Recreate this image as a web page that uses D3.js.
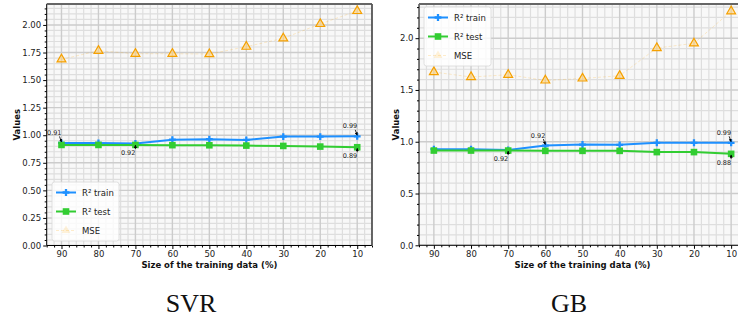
<!DOCTYPE html>
<html><head><meta charset="utf-8">
<script src="https://cdn.jsdelivr.net/npm/d3@7"></script>
<style>body{margin:0;background:#fff}svg{display:block}</style>
</head><body><svg id="c" width="738" height="320"></svg>
<script>
// ---- data ----
const sizes = [90, 80, 70, 60, 50, 40, 30, 20, 10];
const svrTrain = [0.93, 0.93, 0.925, 0.96, 0.964, 0.957, 0.988, 0.988, 0.99];
const svrTest  = [0.912, 0.912, 0.912, 0.91, 0.909, 0.906, 0.903, 0.897, 0.891];
const svrMse   = [1.688, 1.766, 1.739, 1.739, 1.736, 1.803, 1.879, 2.009, 2.127];
const gbTrain  = [0.928, 0.928, 0.92, 0.963, 0.973, 0.97, 0.99, 0.99, 0.99];
const gbTest   = [0.915, 0.915, 0.915, 0.912, 0.912, 0.912, 0.90, 0.90, 0.883];
const gbMse    = [1.673, 1.625, 1.647, 1.592, 1.611, 1.637, 1.905, 1.95, 2.26];
const svrNotes = [{x:90, v:0.93, t:"0.91", pos:"above"}, {x:70, v:0.92, t:"0.92", pos:"below"},
                  {x:10, v:0.99, t:"0.99", pos:"above"}, {x:10, v:0.891, t:"0.89", pos:"below"}];
const gbNotes  = [{x:60, v:0.963, t:"0.92", pos:"above"}, {x:70, v:0.92, t:"0.92", pos:"below"},
                  {x:10, v:0.99, t:"0.99", pos:"above"}, {x:10, v:0.883, t:"0.88", pos:"below"}];
const xTicks = [90, 80, 70, 60, 50, 40, 30, 20, 10];
const svrYTicks = [0, 0.25, 0.5, 0.75, 1.0, 1.25, 1.5, 1.75, 2.0];
const gbYTicks = [0, 0.5, 1.0, 1.5, 2.0];
const seriesNames = ["R² train", "R² test", "MSE"];
const captions = ["SVR", "GB"];

// ---- layout ----
const svg = d3.select("#c");
const font = "DejaVu Sans";
const panels = [
  {cap:captions[0], train:svrTrain, test:svrTest, mse:svrMse, notes:svrNotes, yTicks:svrYTicks, yMinorStep:0.05, fmt:".2f",
   left:46.7, right:372, top:4, bottom:245.5, yMax:2.19, ylabX:16.5, capX:191, legend:{x:52, y:182, align:"bottom"}},
  {cap:captions[1], train:gbTrain, test:gbTest, mse:gbMse, notes:gbNotes, yTicks:gbYTicks, yMinorStep:0.1, fmt:".1f",
   left:419, right:746, top:4, bottom:245.3, yMax:2.33, ylabX:395.5, capX:569, legend:{x:424, y:7}}
];

const defs = svg.append("defs");
defs.append("marker").attr("id","ah").attr("viewBox","0 0 6 6").attr("refX",5.5).attr("refY",3)
  .attr("markerWidth",4).attr("markerHeight",4).attr("orient","auto")
  .append("path").attr("d","M0,0L6,3L0,6Z").attr("fill","#000");

panels.forEach((p, pi) => {
  const x = d3.scaleLinear().domain([94, 6]).range([p.left, p.right]);
  const y = d3.scaleLinear().domain([0, p.yMax]).range([p.bottom, p.top]);
  const clipId = "clip" + pi;
  defs.append("clipPath").attr("id", clipId).append("rect")
    .attr("x", p.left).attr("y", p.top).attr("width", p.right - p.left).attr("height", p.bottom - p.top);
  const g = svg.append("g");
  const plot = g.append("g").attr("clip-path", `url(#${clipId})`);
  plot.append("rect").attr("x", p.left).attr("y", p.top).attr("width", p.right - p.left)
    .attr("height", p.bottom - p.top).attr("fill", "#f8f8f8");

  // grid
  const xMinor = d3.range(94, 5, -2).filter(v => v % 10 !== 0);
  const yMinor = d3.range(0, p.yMax + 1e-9, p.yMinorStep).map(v => +v.toFixed(3)).filter(v => !p.yTicks.some(t => Math.abs(t - v) < 1e-6));
  plot.selectAll(".vx").data(xMinor).join("line").attr("x1", d => x(d)).attr("x2", d => x(d))
    .attr("y1", p.top).attr("y2", p.bottom).attr("stroke", "#dedede").attr("stroke-width", 1.2);
  plot.selectAll(".hy").data(yMinor).join("line").attr("y1", d => y(d)).attr("y2", d => y(d))
    .attr("x1", p.left).attr("x2", p.right).attr("stroke", "#dedede").attr("stroke-width", 1.2);
  plot.selectAll(".vX").data(xTicks).join("line").attr("x1", d => x(d)).attr("x2", d => x(d))
    .attr("y1", p.top).attr("y2", p.bottom).attr("stroke", "#cccccc").attr("stroke-width", 1.4);
  plot.selectAll(".hY").data(p.yTicks).join("line").attr("y1", d => y(d)).attr("y2", d => y(d))
    .attr("x1", p.left).attr("x2", p.right).attr("stroke", "#cccccc").attr("stroke-width", 1.4);

  // MSE
  const line = arr => d3.line().x((d, i) => x(sizes[i])).y(d => y(d))(arr);
  plot.append("path").attr("d", line(p.mse)).attr("fill", "none").attr("stroke", "#ffa500")
    .attr("stroke-opacity", 0.2).attr("stroke-dasharray", "3,2").attr("stroke-width", 1);
  const tri = d3.symbol().type(d3.symbolTriangle).size(34);
  plot.selectAll(".tri").data(p.mse).join("path").attr("d", tri)
    .attr("transform", (d, i) => `translate(${x(sizes[i])},${y(d)})`)
    .attr("fill", "#ffd27a").attr("fill-opacity", 0.6).attr("stroke", "#f5a000").attr("stroke-width", 1.2);

  // train
  plot.append("path").attr("d", line(p.train)).attr("fill", "none").attr("stroke", "#1e90ff").attr("stroke-width", 2);
  const plus = d3.symbol().type(d3.symbolCross).size(26);
  plot.selectAll(".pl").data(p.train).join("path").attr("d", plus)
    .attr("transform", (d, i) => `translate(${x(sizes[i])},${y(d)})`).attr("fill", "#1e90ff");
  // test
  plot.append("path").attr("d", line(p.test)).attr("fill", "none").attr("stroke", "#32cd32").attr("stroke-width", 2);
  plot.selectAll(".sq").data(p.test).join("rect")
    .attr("x", (d, i) => x(sizes[i]) - 3.3).attr("y", d => y(d) - 3.3).attr("width", 6.6).attr("height", 6.6)
    .attr("fill", "#32cd32");

  // annotations
  p.notes.forEach(n => {
    const px = x(n.x), py = y(n.v);
    if (n.pos === "above") {
      g.append("text").attr("x", px).attr("y", py - 8).attr("text-anchor", "end")
        .attr("font-family", font).attr("font-size", 6.5).attr("fill", "#222").text(n.t);
      g.append("line").attr("x1", px - 2).attr("y1", py - 6.5).attr("x2", px).attr("y2", py - 1)
        .attr("stroke", "#000").attr("stroke-width", 0.8).attr("marker-end", "url(#ah)");
    } else {
      g.append("text").attr("x", px).attr("y", py + 11).attr("text-anchor", "end")
        .attr("font-family", font).attr("font-size", 6.5).attr("fill", "#222").text(n.t);
      g.append("line").attr("x1", px).attr("y1", py + 5).attr("x2", px).attr("y2", py + 1)
        .attr("stroke", "#000").attr("stroke-width", 0.8).attr("marker-end", "url(#ah)");
    }
  });

  // axes
  const yAxis = d3.axisLeft(y).tickValues(p.yTicks).tickFormat(d3.format(p.fmt)).tickSize(3.5).tickPadding(2);
  const ya = g.append("g").attr("transform", `translate(${p.left},0)`).call(yAxis);
  const yMinorAx = d3.axisLeft(y).tickValues(yMinor).tickFormat("").tickSize(2);
  g.append("g").attr("transform", `translate(${p.left},0)`).call(yMinorAx).call(s => s.select(".domain").remove());
  const xAxis = d3.axisBottom(x).tickValues(xTicks).tickFormat(d3.format("d")).tickSize(3.5).tickPadding(2);
  const xa = g.append("g").attr("transform", `translate(0,${p.bottom})`).call(xAxis);
  const xMinorAx = d3.axisBottom(x).tickValues(xMinor).tickFormat("").tickSize(2);
  g.append("g").attr("transform", `translate(0,${p.bottom})`).call(xMinorAx).call(s => s.select(".domain").remove());
  [ya, xa].forEach(a => {
    a.selectAll("text").attr("font-family", font).attr("font-size", 8.5).attr("fill", "#222");
    a.select(".domain").attr("stroke", "#000").attr("stroke-width", 1);
  });
  ya.select(".domain").remove(); xa.select(".domain").remove();
  // spines
  g.append("line").attr("x1", p.left).attr("x2", p.left).attr("y1", p.top).attr("y2", p.bottom).attr("stroke", "#000").attr("stroke-width", 1);
  g.append("line").attr("x1", p.left).attr("x2", p.right).attr("y1", p.bottom).attr("y2", p.bottom).attr("stroke", "#000").attr("stroke-width", 1);
  g.append("line").attr("x1", p.left).attr("x2", p.right).attr("y1", p.top).attr("y2", p.top).attr("stroke", "#666").attr("stroke-width", 1.8);
  g.append("line").attr("x1", p.right).attr("x2", p.right).attr("y1", p.top).attr("y2", p.bottom).attr("stroke", "#555").attr("stroke-width", 1.8);

  // labels
  g.append("text").attr("x", (p.left + p.right) / 2).attr("y", 268).attr("text-anchor", "middle")
    .attr("font-family", font).attr("font-weight", "bold").attr("font-size", 8.5).attr("fill", "#111")
    .text("Size of the training data (%)");
  g.append("text").attr("transform", `translate(${p.ylabX + 3},${(p.top + p.bottom) / 2}) rotate(-90)`)
    .attr("text-anchor", "middle").attr("font-family", font).attr("font-weight", "bold").attr("font-size", 8.5)
    .attr("fill", "#111").text("Values");
  g.append("text").attr("x", p.capX).attr("y", 312).attr("text-anchor", "middle")
    .attr("font-family", "Liberation Serif").attr("font-size", 26).attr("fill", "#111").text(p.cap);

  // legend
  const L = p.legend, lw = 67, lh = 59;
  const lg = g.append("g").attr("transform", `translate(${L.x},${L.y})`);
  lg.append("rect").attr("width", lw).attr("height", lh).attr("rx", 2.5).attr("fill", "#fff").attr("fill-opacity", 0.8)
    .attr("stroke", "#d8d8d8").attr("stroke-width", 0.8);
  seriesNames.forEach((nm, i) => {
    const cy = 10.5 + i * 19;
    const row = lg.append("g");
    if (i === 0) {
      row.append("line").attr("x1", 4).attr("x2", 24).attr("y1", cy).attr("y2", cy).attr("stroke", "#1e90ff").attr("stroke-width", 2);
      row.append("path").attr("d", plus).attr("transform", `translate(14,${cy})`).attr("fill", "#1e90ff");
    } else if (i === 1) {
      row.append("line").attr("x1", 4).attr("x2", 24).attr("y1", cy).attr("y2", cy).attr("stroke", "#32cd32").attr("stroke-width", 2);
      row.append("rect").attr("x", 10.7).attr("y", cy - 3.3).attr("width", 6.6).attr("height", 6.6).attr("fill", "#32cd32");
    } else {
      row.append("line").attr("x1", 4).attr("x2", 24).attr("y1", cy).attr("y2", cy).attr("stroke", "#ffa500")
        .attr("stroke-opacity", 0.2).attr("stroke-dasharray", "3,2");
      row.append("path").attr("d", tri).attr("transform", `translate(14,${cy})`).attr("fill", "#ffa500").attr("fill-opacity", 0.15);
    }
    row.append("text").attr("x", 30).attr("y", cy + 3).attr("font-family", font).attr("font-size", 8.5).attr("fill", "#222").text(nm);
  });
});
</script></body></html>
